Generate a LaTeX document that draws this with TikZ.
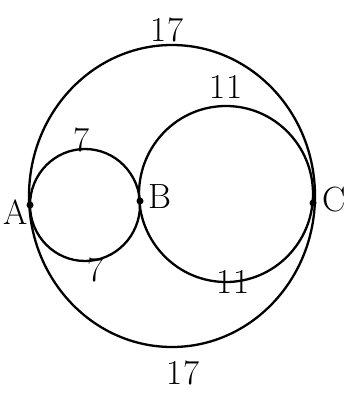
\documentclass[tikz,border=0pt]{standalone}
\begin{document}
\begin{tikzpicture}[x=1pt, y=-1pt, line width=2.3pt,
    lbl/.style={font=\fontsize{35}{37}\selectfont, inner sep=0pt},
    pt/.style={circle, fill=black, inner sep=0pt, minimum size=7pt}]
    \useasboundingbox (0,0) rectangle (352,396);

    % Points on the diameter
    \coordinate (A) at (30,205);
    \coordinate (B) at (140,201);
    \coordinate (C) at (313,203);

    % The big circle (diameter AC)
    \draw (172,196) ellipse (143 and 151);

    % The small circle (diameter AB)
    \draw (85,205) ellipse (55 and 56);

    % The middle circle (diameter BC)
    \draw (226,194) ellipse (87 and 88);

    % Dots at A, B, C
    \node[pt] (a) at (A) {};
    \node[pt] (b) at (B) {};
    \node[pt] (c) at (C) {};

    % Letters
    \node[lbl] (la) at (16,212) {A};
    \node[lbl] (lb) at (160,197) {B};
    \node[lbl] (lc) at (334,200) {C};

    % Arc lengths
    \node[lbl] (t17) at (167,30) {17};
    \node[lbl] (b17) at (183,373) {17};
    \node[lbl] (t7) at (82,140) {7};
    \node[lbl] (b7) at (96,270) {7};
    \node[lbl] (t11) at (226,87) {11};
    \node[lbl] (b11) at (233,282) {11};
\end{tikzpicture}
\end{document}
